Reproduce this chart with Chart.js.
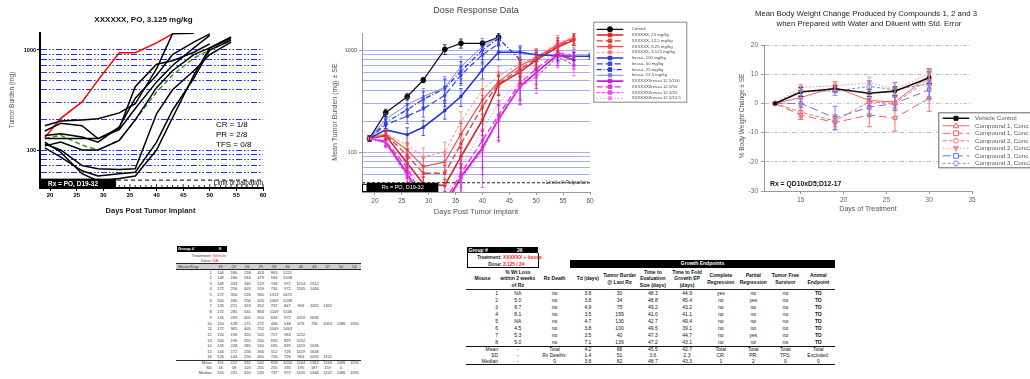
<!DOCTYPE html>
<html>
<head>
<meta charset="utf-8">
<script src="https://cdn.jsdelivr.net/npm/chart.js@4.4.1/dist/chart.umd.min.js"></script>
<style>
html,body{margin:0;padding:0;background:#fff;}
#wrap{position:relative;width:1030px;height:379px;overflow:hidden;background:#fff;font-family:"Liberation Sans",Arial,sans-serif;}
canvas{position:absolute;top:0;}
.abs{position:absolute;white-space:nowrap;}
table.t{position:absolute;border-collapse:collapse;table-layout:fixed;font-family:"Liberation Sans",Arial,sans-serif;}
table.t td{padding:0;overflow:hidden;white-space:nowrap;}
</style>
</head>
<body>
<div id="wrap">
<canvas id="c1" width="290" height="220" style="left:0px"></canvas>
<canvas id="c2" width="368" height="220" style="left:320px"></canvas>
<canvas id="c3" width="310" height="220" style="left:720px"></canvas>
</div>
<script>
// ================= DATA =================
// --- Chart 1: individual tumor burden, XXXXXX PO 3.125 mg/kg ---
const C1_DAYS = [19, 22, 26, 29, 33, 36, 40, 43, 47, 50, 54];
const C1_MOUSE_A = [175, 195, 200, 205, 235, 290, 650, 1450, 1470];
const C1_MOUSE_B = [155, 185, 175, 130, 165, 430, 720, 780, 950, 1150];
const C1_MOUSE_C = [130, 130, 130, 130, 160, 260, 480, 700, 1050, 1400];
const C1_MOUSE_D = [110, 120, 100, 100, 125, 200, 420, 620, 900, 1050, 1300];
const C1_MOUSE_E = [105, 85, 62, 55, 58, 60, 120, 250, 520, 1000, 1250];
const C1_MOUSE_F = [120, 95, 58, 49, 52, 55, 100, 210, 560, 1050, 1350];
const C1_MOUSE_G = [115, 100, 70, 65, 64, 65, 230, 400, 620, 900, 1200];
const C1_MOUSE_H = [140, 145, 135, 120, 170, 330, 560, 900, 1200, 1450];
const C1_MOUSE_RED = [133, 207, 303, 500, 940, 940, 1180, 1450];
const C1_MEAN = [131, 140, 112, 100, 125, 200, 380, 560, 830, 1000, 1250];
const C1_GRID = [60, 70, 80, 90, 100, 200, 300, 400, 500, 600, 700, 800, 900, 1000];
const C1_Y_LABELS = [100, 1000];
const C1_LIMIT = 50;
const C1_RX_END = 32.4;
const C1_STATS = ['CR = 1/8', 'PR = 2/8', 'TFS = 0/8'];

// --- Chart 2: Dose Response Data (mean +/- SE) ---
const C2_DAYS = [19, 22, 26, 29, 33, 36, 40, 43, 47, 50, 54, 57, 60];
const C2_CONTROL = [136, 243, 348, 508, 1016, 1163, 1163, 1332];
const C2_CONTROL_SE = [8, 20, 25, 30, 110, 120, 60, 110];
const C2_X25 = [136, 145, 78, 49, 47, 90, 206, 457, 610, 795, 1070, 1250];
const C2_X25_SE = [8, 14, 12, 8, 7, 20, 60, 100, 140, 150, 170, 150];
const C2_X12 = [136, 148, 93, 62, 62, 120, 280, 470, 650, 820, 1100, 1280];
const C2_X12_SE = [8, 14, 15, 12, 12, 30, 80, 110, 150, 160, 190, 170];
const C2_X6 = [136, 150, 105, 72, 80, 150, 325, 490, 700, 840, 1130, 1320];
const C2_X6_SE = [8, 15, 18, 15, 15, 40, 90, 120, 160, 160, 200, 180];
const C2_X3 = [136, 152, 117, 90, 100, 198, 408, 560, 740, 860, 1170, 1350];
const C2_X3_SE = [8, 15, 20, 20, 25, 50, 110, 130, 170, 170, 220, 190];
const C2_I100 = [136, 165, 148, 175, 255, 350, 640, 950, 950, 900, 880, 870, 870];
const C2_I100_SE = [8, 20, 25, 30, 45, 70, 120, 150, 150, 120, 100, 80, 60];
const C2_I50 = [136, 185, 225, 265, 360, 570, 900, 1150];
const C2_I50_SE = [8, 25, 35, 45, 80, 120, 170, 180];
const C2_I25 = [136, 195, 260, 330, 420, 620, 1000, 1300, 800];
const C2_I25_SE = [8, 25, 40, 60, 100, 150, 200, 200, 250];
const C2_I12 = [136, 210, 290, 350, 430, 690, 1080, 1330];
const C2_I12_SE = [8, 30, 50, 70, 120, 170, 220, 220];
const C2_M100 = [136, 125, 62, 32, 30, 57, 110, 210, 440, 600, 900, 800];
const C2_M100_SE = [8, 12, 14, 8, 8, 20, 50, 80, 150, 180, 200, 150];
const C2_M50 = [136, 128, 70, 35, 33, 62, 130, 230, 480, 650, 950, 860];
const C2_M50_SE = [8, 12, 15, 8, 8, 22, 60, 90, 160, 190, 200, 160];
const C2_M25 = [136, 122, 58, 30, 28, 55, 105, 205, 437, 545, 860, 710];
const C2_M25_SE = [8, 12, 14, 8, 8, 20, 60, 80, 140, 170, 190, 150];
const C2_M12 = [136, 130, 75, 40, 38, 70, 165, 300, 510, 740, 1000, 890];
const C2_M12_SE = [8, 14, 16, 10, 10, 25, 70, 100, 180, 200, 210, 170];
const C2_LABELS = ['Control', 'XXXXXX, 25 mg/kg', 'XXXXXX, 12.5 mg/kg', 'XXXXXX, 6.25 mg/kg', 'XXXXXX, 3.125 mg/kg',
  'Iressa, 100 mg/kg', 'Iressa, 50 mg/kg', 'Iressa, 25 mg/kg', 'Iressa, 12.5 mg/kg',
  'XXXXXX/Iressa 12.5/100', 'XXXXXX/Iressa 12.5/50', 'XXXXXX/Iressa 12.5/25', 'XXXXXX/Iressa 12.5/12.5'];
const C2_GRID = [60, 70, 80, 90, 100, 200, 300, 400, 500, 600, 700, 800, 900, 1000];
const C2_Y_LABELS = [100, 1000];
const C2_LIMIT = 50;
const C2_RX_END = 31.8;

// --- Chart 3: Mean body weight change ---
const C3_DAYS = [12, 15, 19, 23, 26, 30];
const C3_VEH = [0, 3.9, 5.0, 3.5, 4.2, 8.8];
const C3_VEH_SE = [0, 1.5, 1.0, 1.2, 1.5, 2.0];
const C3_C1A = [0, 2.0, 5.5, 1.0, 0.5, 9.5];
const C3_C1A_SE = [0, 2.0, 1.5, 2.0, 2.0, 2.5];
const C3_C1B = [0, -4.0, -6.5, -4.0, -5.0, 1.8];
const C3_C1B_SE = [0, 1.5, 2.5, 4.0, 4.5, 4.5];
const C3_C2A = [0, -3.0, -6.0, 0.5, 0.0, 8.5];
const C3_C2A_SE = [0, 2.0, 2.0, 2.5, 2.0, 3.0];
const C3_C2B = [0, 5.5, 6.0, 7.0, 5.0, 10.0];
const C3_C2B_SE = [0, 1.0, 1.5, 2.0, 2.0, 2.0];
const C3_C3A = [0, 0.0, -5.0, -1.3, 0.0, 4.7];
const C3_C3A_SE = [0, 1.5, 4.0, 3.0, 2.5, 3.0];
const C3_C3B = [0, 4.2, 4.2, 5.8, 4.7, 6.7];
const C3_C3B_SE = [0, 1.5, 1.5, 2.0, 2.5, 5.0];
const C3_LABELS = ['Vehicle Control', 'Compound 1, Conc. 1', 'Compound 1, Conc. 2', 'Compound 2, Conc 1',
  'Compound 2, Conc2', 'Compound 3, Conc 1', 'Compound 3, Conc2'];

// --- Table 1: tumor burden per mouse per day ---
const T1_DAYS = [19, 22, 26, 29, 33, 36, 40, 43, 47, 50, 54];
const T1_ROWS = [
  [144, 180, 218, 443, 863, 1221],
  [149, 180, 284, 479, 946, 1508],
  [149, 243, 345, 519, 746, 972, 1214, 1512],
  [172, 256, 405, 559, 730, 972, 1205, 1446],
  [172, 300, 526, 965, 1313, 1672],
  [150, 180, 256, 405, 1069, 1208],
  [126, 221, 324, 352, 737, 847, 963, 1163, 1452],
  [172, 285, 545, 864, 1109, 1546],
  [126, 239, 405, 550, 634, 972, 1419, 1636],
  [150, 128, 172, 272, 446, 548, 676, 726, 1053, 1186, 1190],
  [172, 365, 405, 752, 1069, 1463],
  [150, 196, 320, 520, 757, 963, 1252],
  [150, 196, 320, 550, 635, 829, 1252],
  [126, 228, 285, 520, 635, 839, 1419, 1636],
  [144, 172, 256, 356, 552, 726, 1419, 1636],
  [126, 144, 256, 405, 726, 726, 963, 1092, 1152]
];
const T1_MEAN = [151, 222, 332, 542, 818, 1056, 1164, 1362, 1163, 1186, 1190];
const T1_SD = [16, 58, 103, 201, 255, 335, 195, 187, 159, 0, '-'];
const T1_MEDIAN = [150, 221, 320, 520, 737, 972, 1205, 1446, 1152, 1186, 1190];

// --- Table 2: growth endpoints ---
const T2_HEAD = ['Mouse', '% Wt Loss<br>within 2 weeks<br>of Rx', 'Rx Death', 'Td (days)', 'Tumor Burden<br>@ Last Rx',
  'Time to<br>Evaluation<br>Size (days)', 'Time to Fold<br>Growth EP<br>(days)', 'Complete<br>Regression',
  'Partial<br>Regression', 'Tumor Free<br>Survivor', 'Animal<br>Endpoint'];
const T2_MOUSE = [1, 2, 3, 4, 5, 6, 7, 8];
const T2_WTLOSS = ['NA', '5.0', '8.7', '8.1', 'NA', '4.5', '5.3', '5.0'];
const T2_RXDEATH = ['no', 'no', 'no', 'no', 'no', 'no', 'no', 'no'];
const T2_TD = ['3.8', '3.8', '4.9', '3.5', '4.7', '3.8', '3.5', '7.1'];
const T2_BURDEN = [30, 34, 75, 159, 130, 100, 40, 139];
const T2_TTE = ['48.3', '48.8', '49.2', '41.0', '42.7', '49.5', '47.3', '47.2'];
const T2_TTF = ['44.9', '45.4', '43.2', '41.1', '49.4', '39.1', '44.7', '43.1'];
const T2_CR = ['yes', 'no', 'no', 'no', 'no', 'no', 'no', 'no'];
const T2_PR = ['no', 'yes', 'no', 'no', 'no', 'no', 'yes', 'no'];
const T2_TFS = ['no', 'no', 'no', 'no', 'no', 'no', 'no', 'no'];
const T2_END = ['TO', 'TO', 'TO', 'TO', 'TO', 'TO', 'TO', 'TO'];
const T2_MEAN = ['Mean', '-', 'Total', '4.2', '88', '45.5', '42.7', 'Total', 'Total', 'Total', 'Total'];
const T2_SD = ['SD', '-', 'Rx Deaths:', '1.4', '51', '3.6', '2.3', 'CR:', 'PR:', 'TFS:', 'Excluded:'];
const T2_MEDIAN = ['Median', '-', '0', '3.8', '82', '48.7', '43.3', '1', '2', '0', '0'];

// ================= HELPERS =================
const FONT = '"Liberation Sans", Arial, sans-serif';
Chart.defaults.font.family = FONT;

function series(days, vals, se) {
  return days.map((d, i) => ({x: d, y: vals[i], se: se ? se[i] : undefined})).filter(p => p.y != null);
}
function txt(ctx, s, x, y, font, color, align, rot) {
  ctx.save();
  ctx.font = font; ctx.fillStyle = color; ctx.textAlign = align || 'center'; ctx.textBaseline = 'middle';
  if (rot) { ctx.translate(x, y); ctx.rotate(rot); ctx.fillText(s, 0, 0); }
  else ctx.fillText(s, x, y);
  ctx.restore();
}
function marker(ctx, style, x, y, r, fill, stroke, rot) {
  if (!r) return;
  ctx.save();
  ctx.setLineDash([]);
  ctx.beginPath();
  if (style === 'circle') ctx.arc(x, y, r, 0, Math.PI * 2);
  else if (style === 'rect') ctx.rect(x - r, y - r, 2 * r, 2 * r);
  else if (style === 'triangle') {
    const s = rot ? -1 : 1;
    ctx.moveTo(x, y - s * r * 1.2); ctx.lineTo(x + r * 1.1, y + s * r * 0.8); ctx.lineTo(x - r * 1.1, y + s * r * 0.8); ctx.closePath();
  }
  ctx.fillStyle = fill; ctx.fill();
  ctx.strokeStyle = stroke; ctx.lineWidth = 1; ctx.stroke();
  ctx.restore();
}
const errorBars = {
  id: 'errorBars',
  afterDatasetsDraw(chart, args, opts) {
    const {ctx, chartArea: a, scales: {y}} = chart;
    const cap = opts.cap || 2;
    ctx.save();
    ctx.beginPath(); ctx.rect(a.left, a.top, a.right - a.left, a.bottom - a.top); ctx.clip();
    chart.data.datasets.forEach((ds, i) => {
      const meta = chart.getDatasetMeta(i);
      ctx.strokeStyle = ds.borderColor; ctx.lineWidth = opts.width || 0.8; ctx.setLineDash([]);
      meta.data.forEach((el, j) => {
        const p = ds.data[j];
        if (!p || !p.se) return;
        const lo = p.y - p.se;
        const yTop = y.getPixelForValue(p.y + p.se);
        const yBot = (y.type === 'logarithmic' && lo <= 0) ? a.bottom + 5 : y.getPixelForValue(lo);
        ctx.beginPath();
        ctx.moveTo(el.x, yTop); ctx.lineTo(el.x, yBot);
        ctx.moveTo(el.x - cap, yTop); ctx.lineTo(el.x + cap, yTop);
        ctx.moveTo(el.x - cap, yBot); ctx.lineTo(el.x + cap, yBot);
        ctx.stroke();
      });
    });
    ctx.restore();
  }
};
const boxLegend = {
  id: 'boxLegend',
  afterDraw(chart, args, o) {
    const {ctx} = chart;
    ctx.save();
    ctx.fillStyle = '#fff'; ctx.fillRect(o.x, o.y, o.w, o.h);
    ctx.strokeStyle = o.border; ctx.lineWidth = 1; ctx.strokeRect(o.x + 0.5, o.y + 0.5, o.w, o.h);
    ctx.beginPath(); ctx.rect(o.x, o.y, o.w, o.h); ctx.clip();
    chart.data.datasets.forEach((ds, i) => {
      const cy = o.y + o.first + i * o.row;
      ctx.strokeStyle = ds.borderColor; ctx.lineWidth = ds.borderWidth; ctx.setLineDash(ds.borderDash || []);
      ctx.beginPath(); ctx.moveTo(o.x + o.l0, cy); ctx.lineTo(o.x + o.l1, cy); ctx.stroke();
      marker(ctx, ds.pointStyle, o.x + (o.l0 + o.l1) / 2, cy, ds.pointRadius, ds.pointBackgroundColor, ds.pointBorderColor, ds.pointRotation);
      txt(ctx, ds.label, o.x + o.tx, cy, o.font, o.color, 'left');
    });
    ctx.restore();
  }
};
function logScale(min, max, grid, labels, gridColor, labelFont, labelColor, width, dash, borderColor, borderWidth, pad) {
  return {
    type: 'logarithmic', min: min, max: max,
    afterFit: s => { s.width = width; },
    ticks: {autoSkip: false, padding: pad, color: labelColor, font: labelFont,
      callback: v => labels.includes(Math.round(v)) ? String(Math.round(v)) : ''},
    grid: {
      color: c => (c.tick && grid.includes(Math.round(c.tick.value))) ? gridColor : 'rgba(0,0,0,0)',
      tickColor: c => (c.tick && labels.includes(Math.round(c.tick.value))) ? borderColor : 'rgba(0,0,0,0)',
      tickLength: 3, lineWidth: 1
    },
    border: {color: borderColor, width: borderWidth, dash: dash}
  };
}

// ================= CHART 1 =================
const c1Annot = {
  id: 'c1Annot',
  afterDatasetsDraw(chart) {
    const {ctx, chartArea: a, scales: {x, y}} = chart;
    const yl = y.getPixelForValue(C1_LIMIT);
    ctx.save();
    ctx.strokeStyle = '#000'; ctx.lineWidth = 1; ctx.setLineDash([4, 3]);
    ctx.beginPath(); ctx.moveTo(a.left, yl); ctx.lineTo(a.right, yl); ctx.stroke();
    ctx.setLineDash([]); ctx.lineWidth = 0.8;
    for (let d = 19; d <= 60; d++) {
      const px = x.getPixelForValue(d);
      ctx.beginPath(); ctx.moveTo(px, a.bottom); ctx.lineTo(px, a.bottom - (d % 5 === 0 ? 4 : 3)); ctx.stroke();
    }
    ctx.fillStyle = '#000';
    ctx.fillRect(a.left, yl - 1.5, x.getPixelForValue(C1_RX_END) - a.left, a.bottom - yl + 1.5);
    ctx.restore();
    txt(ctx, 'Rx = PO, D19-32', a.left + 8, (yl + a.bottom) / 2, 'bold 6.5px ' + FONT, '#fff', 'left');
    txt(ctx, 'Limit of palpation', a.right, yl + 3.5, '6.5px ' + FONT, '#000', 'right');
  },
  afterDraw(chart) {
    const {ctx, chartArea: a} = chart;
    txt(ctx, 'XXXXXX, PO, 3.125 mg/kg', 143.5, 19.5, 'bold 8px ' + FONT, '#111');
    txt(ctx, 'Days Post Tumor Implant', (a.left + a.right) / 2 - 1, 211, 'bold 7.5px ' + FONT, '#222');
    txt(ctx, 'Tumor Burden (mg)', 12, 100, '6.5px ' + FONT, '#555', 'center', -Math.PI / 2);
    C1_STATS.forEach((s, i) => txt(ctx, s, 216, 125 + i * 10, '8px ' + FONT, '#000', 'left'));
  }
};
const c1Mice = [C1_MOUSE_A, C1_MOUSE_B, C1_MOUSE_C, C1_MOUSE_D, C1_MOUSE_E, C1_MOUSE_F, C1_MOUSE_G, C1_MOUSE_H];
new Chart(document.getElementById('c1'), {
  type: 'line',
  data: {datasets: [
    ...c1Mice.map((m, i) => ({label: 'Mouse ' + (i + 1), data: series(C1_DAYS, m), borderColor: '#000', borderWidth: 1.5, pointRadius: 0})),
    {label: 'Mouse red', data: series(C1_DAYS, C1_MOUSE_RED), borderColor: '#ff0000', borderWidth: 1.5, pointRadius: 0},
    {label: 'Mean', data: series(C1_DAYS, C1_MEAN), borderColor: '#3a9a18', borderWidth: 1.5, borderDash: [5, 3], pointRadius: 0}
  ]},
  options: {
    responsive: false, animation: false, devicePixelRatio: 1,
    layout: {padding: {left: 0, top: 33, right: 27, bottom: 0}},
    plugins: {legend: {display: false}, tooltip: {enabled: false}},
    scales: {
      x: {type: 'linear', min: 18.1, max: 60,
        afterFit: s => { s.height = 32; },
        ticks: {stepSize: 5, includeBounds: false, autoSkip: false, maxRotation: 0, padding: 1, color: '#000', font: {size: 6, weight: 'bold'}},
        grid: {drawOnChartArea: false, tickLength: 3, tickColor: '#000'},
        border: {color: '#000', width: 2}},
      y: logScale(41.7, 1479, C1_GRID, C1_Y_LABELS, '#1f2cff', {size: 5.5, weight: 'bold'}, '#000', 40, [6, 2, 1.5, 2, 1.5, 2], '#000', 2, 1)
    }
  },
  plugins: [c1Annot]
});

// ================= CHART 2 =================
const c2Annot = {
  id: 'c2Annot',
  afterDatasetsDraw(chart) {
    const {ctx, chartArea: a, scales: {x, y}} = chart;
    const yl = y.getPixelForValue(C2_LIMIT);
    ctx.save();
    ctx.strokeStyle = '#222'; ctx.lineWidth = 1; ctx.setLineDash([3, 2]);
    ctx.beginPath(); ctx.moveTo(a.left, yl); ctx.lineTo(a.right, yl); ctx.stroke();
    ctx.setLineDash([]);
    ctx.fillStyle = '#000';
    ctx.fillRect(a.left + 5, yl, x.getPixelForValue(C2_RX_END) - a.left - 5, a.bottom - yl);
    ctx.fillStyle = '#fff';
    ctx.fillRect(a.left, yl + 1, 5, a.bottom - yl - 1);
    ctx.strokeStyle = '#000'; ctx.strokeRect(a.left + 0.5, yl + 1.5, 4.5, a.bottom - yl - 2);
    ctx.restore();
    txt(ctx, 'Rx = PO, D19-32', (a.left + 5 + x.getPixelForValue(C2_RX_END)) / 2, (yl + a.bottom) / 2, '5.5px ' + FONT, '#fff');
    txt(ctx, 'Limit of Palpation', a.right - 2, yl, 'italic 5.5px ' + FONT, '#444', 'right');
  },
  afterDraw(chart) {
    const {ctx, chartArea: a} = chart;
    txt(ctx, 'Dose Response Data', 156, 10.5, '9px ' + FONT, '#444');
    txt(ctx, 'Days Post Tumor Implant', (a.left + a.right) / 2, 212, '7.5px ' + FONT, '#555');
    txt(ctx, 'Mean Tumor Burden (mg) \u00b1 SE', 15, 112, '7px ' + FONT, '#555', 'center', -Math.PI / 2);
  }
};
const C2_STYLES = [
  {c: '#111111', w: 1.2, d: [], ps: 'circle', r: 2.6, f: '#000'},
  {c: '#dd2222', w: 1.6, d: [], ps: 'rect', r: 1.8, f: '#dd2222'},
  {c: '#e43a3a', w: 1.3, d: [6, 3], ps: 'rect', r: 1.8, f: '#e43a3a'},
  {c: '#e85050', w: 1.2, d: [], ps: 'rect', r: 1.8, f: '#e85050'},
  {c: '#f28080', w: 0.9, d: [3, 2], ps: 'rect', r: 1.6, f: '#f28080'},
  {c: '#2434d0', w: 1.6, d: [], ps: 'rect', r: 1.8, f: '#2434d0'},
  {c: '#3444e0', w: 1.2, d: [6, 3], ps: 'rect', r: 1.8, f: '#3444e0'},
  {c: '#2a3ad8', w: 1.3, d: [5, 2, 1, 2], ps: 'rect', r: 1.8, f: '#2a3ad8'},
  {c: '#6a78ee', w: 0.9, d: [], ps: 'rect', r: 1.6, f: '#6a78ee'},
  {c: '#d01ad0', w: 1.8, d: [], ps: 'rect', r: 1.8, f: '#d01ad0'},
  {c: '#e030e0', w: 1.3, d: [6, 3], ps: 'rect', r: 1.8, f: '#e030e0'},
  {c: '#e850e8', w: 1.2, d: [3, 2], ps: 'rect', r: 1.8, f: '#e850e8'},
  {c: '#f080f0', w: 1.0, d: [1.5, 2], ps: 'rect', r: 1.6, f: '#f080f0'}
];
const C2_VALUES = [C2_CONTROL, C2_X25, C2_X12, C2_X6, C2_X3, C2_I100, C2_I50, C2_I25, C2_I12, C2_M100, C2_M50, C2_M25, C2_M12];
const C2_SES = [C2_CONTROL_SE, C2_X25_SE, C2_X12_SE, C2_X6_SE, C2_X3_SE, C2_I100_SE, C2_I50_SE, C2_I25_SE, C2_I12_SE, C2_M100_SE, C2_M50_SE, C2_M25_SE, C2_M12_SE];
new Chart(document.getElementById('c2'), {
  type: 'line',
  data: {datasets: C2_VALUES.map((v, i) => ({
    label: C2_LABELS[i], data: series(C2_DAYS, v, C2_SES[i]),
    borderColor: C2_STYLES[i].c, borderWidth: C2_STYLES[i].w, borderDash: C2_STYLES[i].d,
    pointStyle: C2_STYLES[i].ps, pointRadius: C2_STYLES[i].r, pointBackgroundColor: C2_STYLES[i].f,
    pointBorderColor: C2_STYLES[i].c, pointBorderWidth: 0.5
  })).reverse()},
  options: {
    responsive: false, animation: false, devicePixelRatio: 1,
    layout: {padding: {left: 0, top: 33, right: 98, bottom: 0}},
    plugins: {legend: {display: false}, tooltip: {enabled: false},
      errorBars: {cap: 1.8, width: 0.8},
      boxLegend: {x: 273.3, y: 21.7, w: 93, h: 80, first: 7.6, row: 5.75, l0: 3.4, l1: 30, tx: 38.4, font: '4.3px ' + FONT, color: '#444', border: '#888'}},
    scales: {
      x: {type: 'linear', min: 17.6, max: 60,
        afterFit: s => { s.height = 28; },
        ticks: {stepSize: 5, includeBounds: false, autoSkip: false, maxRotation: 0, padding: 2, color: '#555', font: {size: 6.5}},
        grid: {drawOnChartArea: false, tickLength: 3, tickColor: '#999'},
        border: {color: '#999', width: 1}},
      y: logScale(40.6, 1468, C2_GRID, C2_Y_LABELS, '#a8aef2', {size: 5.5}, '#555', 42, [], '#999', 1, 2)
    }
  },
  plugins: [errorBars, c2Annot, {
    id: 'legendOrder',
    afterDraw(chart, a, o) {}
  }]
});

// ================= CHART 3 =================
const c3Annot = {
  id: 'c3Annot',
  afterDraw(chart) {
    const {ctx, chartArea: a} = chart;
    txt(ctx, 'Mean Body Weight Change Produced by Compounds 1, 2 and 3', 146, 14, '7.8px ' + FONT, '#222');
    txt(ctx, 'when Prepared with Water and Diluent with Std. Error', 149, 24, '7.8px ' + FONT, '#222');
    txt(ctx, 'Days of Treatment', 148, 209, '7px ' + FONT, '#555');
    txt(ctx, '% Body Weight Change \u00b1 SE', 22, 116, '6.5px ' + FONT, '#555', 'center', -Math.PI / 2);
    txt(ctx, 'Rx = QD10xD5;D12-17', 50, 184.5, 'bold 6.8px ' + FONT, '#111', 'left');
  }
};
const C3_STYLES = [
  {c: '#111111', w: 1.6, d: [], ps: 'rect', r: 2, f: '#111', rot: 0},
  {c: '#f06060', w: 1.0, d: [], ps: 'triangle', r: 2.4, f: '#fff', rot: 0},
  {c: '#f06060', w: 1.0, d: [8, 4], ps: 'rect', r: 2.4, f: '#fff', rot: 0},
  {c: '#f07070', w: 1.0, d: [4, 2], ps: 'circle', r: 2.4, f: '#fff', rot: 0},
  {c: '#f49090', w: 1.0, d: [1.5, 2], ps: 'triangle', r: 2.4, f: '#f49090', rot: 180},
  {c: '#6670f0', w: 1.0, d: [8, 4], ps: 'rect', r: 2.4, f: '#fff', rot: 0},
  {c: '#7a84f2', w: 1.0, d: [3, 2], ps: 'circle', r: 2.4, f: '#fff', rot: 0}
];
const C3_VALUES = [C3_VEH, C3_C1A, C3_C1B, C3_C2A, C3_C2B, C3_C3A, C3_C3B];
const C3_SES = [C3_VEH_SE, C3_C1A_SE, C3_C1B_SE, C3_C2A_SE, C3_C2B_SE, C3_C3A_SE, C3_C3B_SE];
new Chart(document.getElementById('c3'), {
  type: 'line',
  data: {datasets: C3_VALUES.map((v, i) => ({
    label: C3_LABELS[i], data: series(C3_DAYS, v, C3_SES[i]),
    borderColor: C3_STYLES[i].c, borderWidth: C3_STYLES[i].w, borderDash: C3_STYLES[i].d,
    pointStyle: C3_STYLES[i].ps, pointRadius: C3_STYLES[i].r, pointRotation: C3_STYLES[i].rot,
    pointBackgroundColor: C3_STYLES[i].f, pointBorderColor: C3_STYLES[i].c, pointBorderWidth: 1,
    order: i === 0 ? -1 : 0
  }))},
  options: {
    responsive: false, animation: false, devicePixelRatio: 1,
    layout: {padding: {left: 0, top: 45, right: 58, bottom: 0}},
    plugins: {legend: {display: false}, tooltip: {enabled: false},
      errorBars: {cap: 2.5, width: 0.9},
      boxLegend: {x: 218.3, y: 112.3, w: 100, h: 55, first: 6, row: 7.5, l0: 4.4, l1: 31, tx: 36.7, font: '6.2px ' + FONT, color: '#555', border: '#666'}},
    scales: {
      x: {type: 'linear', min: 10.7, max: 35,
        afterFit: s => { s.height = 29; },
        ticks: {stepSize: 5, includeBounds: false, autoSkip: false, maxRotation: 0, padding: 2, color: '#666', font: {size: 6.5}},
        grid: {drawOnChartArea: false, tickLength: 3, tickColor: '#999'},
        border: {color: '#999', width: 1}},
      y: {type: 'linear', min: -30, max: 20,
        afterFit: s => { s.width = 44; },
        ticks: {stepSize: 10, autoSkip: false, padding: 3, color: '#666', font: {size: 6.5}},
        grid: {color: c => (c.tick && c.tick.value === -30) ? 'rgba(0,0,0,0)' : (c.tick && c.tick.value === 0 ? '#c4c4c4' : '#b6baf2'),
          tickLength: 3, tickColor: '#999', lineWidth: 1},
        border: {color: '#999', width: 1, dash: [4, 2, 1, 2]}}
    }
  },
  plugins: [errorBars, boxLegend, c3Annot]
});
// chart 2 legend (drawn in dataset order Control..., so use original order)
(function () {
  const ch = Chart.getChart('c2');
  const o = ch.options.plugins.boxLegend;
  const ctx = ch.ctx;
  const dsets = ch.data.datasets.slice().reverse();
  ctx.save();
  ctx.fillStyle = '#fff'; ctx.fillRect(o.x, o.y, o.w, o.h);
  ctx.strokeStyle = o.border; ctx.lineWidth = 1; ctx.strokeRect(o.x + 0.5, o.y + 0.5, o.w, o.h);
  ctx.beginPath(); ctx.rect(o.x, o.y, o.w, o.h); ctx.clip();
  dsets.forEach((ds, i) => {
    const cy = o.y + o.first + i * o.row;
    ctx.strokeStyle = ds.borderColor; ctx.lineWidth = ds.borderWidth; ctx.setLineDash(ds.borderDash || []);
    ctx.beginPath(); ctx.moveTo(o.x + o.l0, cy); ctx.lineTo(o.x + o.l1, cy); ctx.stroke();
    marker(ctx, ds.pointStyle, o.x + (o.l0 + o.l1) / 2, cy, ds.pointRadius, ds.pointBackgroundColor, ds.pointBorderColor, 0);
    txt(ctx, ds.label, o.x + o.tx, cy, o.font, o.color, 'left');
  });
  ctx.restore();
})();

// ================= TABLES =================
const wrap = document.getElementById('wrap');
function box(css, html) {
  const d = document.createElement('div');
  d.className = 'abs';
  Object.assign(d.style, css);
  if (html != null) d.innerHTML = html;
  wrap.appendChild(d);
  return d;
}
// ---- Table 1 ----
box({left: '176.7px', top: '246px', width: '50.6px', height: '5.8px', background: '#000'});
box({left: '178px', top: '246px', height: '5.8px', lineHeight: '5.8px', font: 'bold 4.2px ' + FONT, color: '#fff'}, 'Group #');
box({left: '219px', top: '246px', height: '5.8px', lineHeight: '5.8px', font: 'bold 4.2px ' + FONT, color: '#fff'}, '6');
box({left: '170px', top: '252.5px', width: '41.7px', textAlign: 'right', lineHeight: '5px', font: '4.2px ' + FONT, color: '#333'}, 'Treatment:');
box({left: '212.6px', top: '252.5px', lineHeight: '5px', font: '4.2px ' + FONT, color: '#ff2020'}, 'Vehicle');
box({left: '170px', top: '258.2px', width: '41.7px', textAlign: 'right', lineHeight: '5px', font: '4.2px ' + FONT, color: '#333'}, 'Dose:');
box({left: '212.6px', top: '258.2px', lineHeight: '5px', font: '4.2px ' + FONT, color: '#ff2020'}, 'NA');
(function () {
  const t = document.createElement('table');
  t.className = 't';
  Object.assign(t.style, {left: '176px', top: '263px', width: '185.2px', font: '4px ' + FONT, color: '#333'});
  let h = '<colgroup><col style="width:37.8px">' + T1_DAYS.map(() => '<col style="width:13.4px">').join('') + '</colgroup>';
  h += '<tr style="height:6px;background:#cfcfcf;border-top:1.2px solid #222;border-bottom:1.5px solid #222;line-height:4px"><td style="text-align:left;padding-left:2px">Mouse/Day</td>' +
    T1_DAYS.map(d => '<td style="text-align:center">' + d + '</td>').join('') + '</tr>';
  T1_ROWS.forEach((r, i) => {
    h += '<tr style="height:5.7px;line-height:4px"><td style="text-align:right;padding-right:2px">' + (i + 1) + '</td>' +
      T1_DAYS.map((d, j) => '<td style="text-align:center">' + (r[j] != null ? r[j] : '') + '</td>').join('') + '</tr>';
  });
  [['Mean', T1_MEAN], ['SD', T1_SD], ['Median', T1_MEDIAN]].forEach(([lab, arr], k) => {
    h += '<tr style="height:5px;line-height:4px;' + (k === 0 ? 'border-top:1.5px solid #333;' : '') + '"><td style="text-align:right;padding-right:2px">' + lab + '</td>' +
      arr.map(v => '<td style="text-align:center">' + v + '</td>').join('') + '</tr>';
  });
  t.innerHTML = h;
  wrap.appendChild(t);
})();

// ---- Table 2 ----
box({left: '466.7px', top: '247.3px', width: '71.6px', height: '6px', background: '#000'});
box({left: '468.5px', top: '247.3px', height: '6px', lineHeight: '6px', font: 'bold 5px ' + FONT, color: '#fff'}, 'Group #');
box({left: '517px', top: '247.3px', height: '6px', lineHeight: '6px', font: 'bold 5px ' + FONT, color: '#fff'}, '26');
box({left: '466.7px', top: '253.3px', width: '70.6px', height: '14.2px', border: '0.8px solid #000', borderTop: 'none'});
box({left: '470px', top: '255px', width: '31.7px', textAlign: 'right', lineHeight: '5.4px', font: 'bold 4.8px ' + FONT, color: '#222'}, 'Treatment:');
box({left: '503px', top: '255px', lineHeight: '5.4px', font: 'bold 4.8px ' + FONT, color: '#ff1a1a'}, 'XXXXXX + Iressa');
box({left: '470px', top: '262.3px', width: '31.7px', textAlign: 'right', lineHeight: '5.4px', font: 'bold 4.8px ' + FONT, color: '#222'}, 'Dose:');
box({left: '503px', top: '262.3px', lineHeight: '5.4px', font: 'bold 4.8px ' + FONT, color: '#ff1a1a'}, '3.125 / 24');
box({left: '570px', top: '260px', width: '265px', height: '8.3px', background: '#000', textAlign: 'center', lineHeight: '8.3px', font: 'bold 5px ' + FONT, color: '#fff'}, 'Growth Endpoints');
(function () {
  const W = [33, 37.7, 35.8, 30.8, 32.5, 34.2, 34.2, 33.3, 31.7, 32.5, 33.3];
  const t = document.createElement('table');
  t.className = 't';
  Object.assign(t.style, {left: '466px', top: '268.4px', width: '369px', font: '5px ' + FONT, color: '#111'});
  let h = '<colgroup>' + W.map(w => '<col style="width:' + w + 'px">').join('') + '</colgroup>';
  h += '<tr style="height:21px;border-bottom:0.8px solid #222">' + T2_HEAD.map(s =>
    '<td style="text-align:center;vertical-align:middle;line-height:6.6px;font-weight:bold;white-space:nowrap">' + s + '</td>').join('') + '</tr>';
  const cols = [T2_MOUSE, T2_WTLOSS, T2_RXDEATH, T2_TD, T2_BURDEN, T2_TTE, T2_TTF, T2_CR, T2_PR, T2_TFS, T2_END];
  T2_MOUSE.forEach((m, i) => {
    h += '<tr style="height:7.14px;line-height:5px">' + cols.map((c, j) =>
      '<td style="text-align:' + (j === 0 ? 'right' : 'center') + ';' + (j === 0 ? 'padding-right:1px;' : '') + (j === 10 ? 'font-weight:bold;' : '') + '">' + c[i] + '</td>').join('') + '</tr>';
  });
  [T2_MEAN, T2_SD, T2_MEDIAN].forEach((r, k) => {
    h += '<tr style="height:6.15px;line-height:5px;' + (k === 0 ? 'border-top:1.6px solid #111;' : '') + (k === 2 ? 'border-bottom:1.6px solid #111;' : '') + '">' +
      r.map((v, j) => '<td style="text-align:' + (j === 0 ? 'right' : 'center') + ';' + (j === 0 ? 'padding-right:1px;' : '') + '">' + v + '</td>').join('') + '</tr>';
  });
  t.innerHTML = h;
  wrap.appendChild(t);
})();
</script>
</body>
</html>
